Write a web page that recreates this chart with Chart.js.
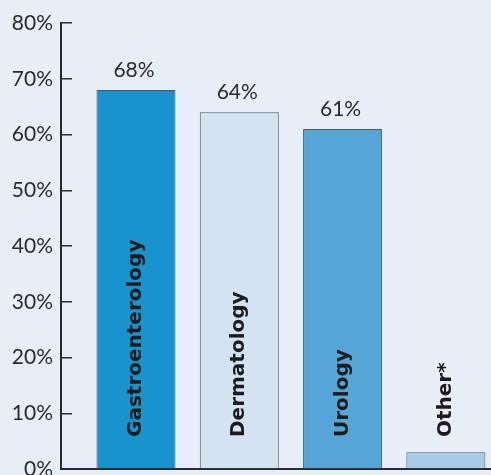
<!DOCTYPE html>
<html>
<head>
<meta charset="utf-8">
<script src="https://cdn.jsdelivr.net/npm/chart.js@4"></script>
<style>
  html, body { margin: 0; padding: 0; background: #e7eef8; overflow: hidden; }
  canvas { display: block; }
</style>
</head>
<body>
<canvas id="chart" width="491" height="475"></canvas>
<script>
// Specialties and the share of respondents for each
const categories = ['Gastroenterology', 'Dermatology', 'Urology', 'Other*'];
const values = [68, 64, 61, 3];
const showValue = [true, true, true, false];
const barColors = ['#1893cd', '#d3e3f2', '#55a5d7', '#a8cbe8'];
const yTicks = [0, 10, 20, 30, 40, 50, 60, 70, 80];

const ink = '#2b2b2b';

// Percent labels above the bars and rotated specialty names inside them
const barLabels = {
  id: 'barLabels',
  afterDatasetsDraw(chart) {
    const { ctx, scales } = chart;
    const meta = chart.getDatasetMeta(0);
    const base = scales.y.getPixelForValue(0);
    ctx.save();
    meta.data.forEach((bar, i) => {
      if (showValue[i]) {
        ctx.font = '21px Lato';
        ctx.fillStyle = ink;
        ctx.textAlign = 'center';
        ctx.textBaseline = 'alphabetic';
        ctx.fillText(values[i] + '%', bar.x - 2, bar.y - 13);
      }
      ctx.save();
      ctx.translate(bar.x, base - 32);
      ctx.rotate(-Math.PI / 2);
      ctx.font = 'bold 20px "DejaVu Sans"';
      ctx.fillStyle = '#1c1c1c';
      ctx.textAlign = 'left';
      ctx.textBaseline = 'middle';
      ctx.fillText(categories[i], 0, 0);
      ctx.restore();
    });
    ctx.restore();
  }
};

const noPad = s => {
  s.paddingTop = 0; s.paddingBottom = 0; s.paddingLeft = 0; s.paddingRight = 0;
};

new Chart(document.getElementById('chart'), {
  type: 'bar',
  data: {
    labels: categories,
    datasets: [{
      data: categories.map((c, i) => ({ x: i, y: values[i] })),
      backgroundColor: barColors,
      borderColor: '#4f5864',
      borderWidth: 1,
      categoryPercentage: 1,
      barPercentage: 0.765
    }]
  },
  options: {
    responsive: false,
    animation: false,
    layout: { padding: { top: 23, bottom: 6, left: 0, right: 0 } },
    plugins: { legend: { display: false }, tooltip: { enabled: false } },
    scales: {
      x: {
        type: 'linear',
        offset: false,
        min: -0.726,
        max: 3.437,
        afterBuildTicks(s) { s.ticks = []; },
        ticks: { display: false },
        grid: { display: false, drawTicks: false, offset: false },
        border: { display: true, color: ink, width: 2 },
        afterFit(s) { s.height = 0; noPad(s); }
      },
      y: {
        min: 0,
        max: 80,
        afterBuildTicks(s) { s.ticks = yTicks.map(v => ({ value: v })); },
        ticks: {
          callback: v => v + '%',
          font: { family: 'Lato', size: 21 },
          color: ink,
          padding: 19
        },
        grid: {
          drawOnChartArea: false,
          drawTicks: true,
          tickLength: -11,
          color: ink,
          lineWidth: 1.5
        },
        border: { display: true, color: ink, width: 2 },
        afterFit(s) { s.width = 61; noPad(s); }
      }
    }
  },
  plugins: [barLabels]
});
</script>
</body>
</html>
